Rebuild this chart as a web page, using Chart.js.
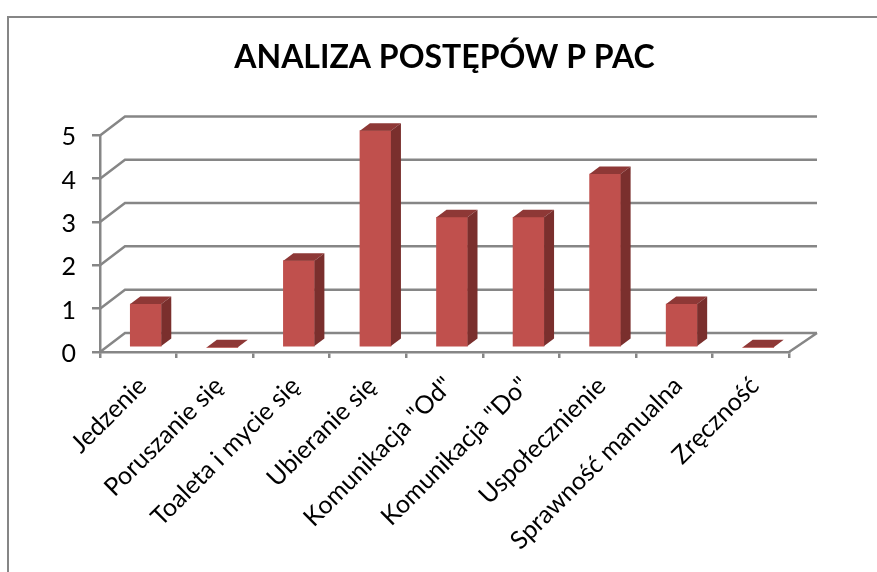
<!DOCTYPE html>
<html>
<head>
<meta charset="utf-8">
<title>Analiza postępów</title>
<script src="https://cdn.jsdelivr.net/npm/chart.js@4"></script>
<style>
    html, body { margin: 0; padding: 0; background: #fff; }
    #wrap { width: 877px; height: 572px; }
</style>
</head>
<body>
<div id="wrap"><canvas id="chart" width="877" height="572"></canvas></div>
<script>
const chartTitle = 'ANALIZA POSTĘPÓW P PAC';
const categories = ['Jedzenie', 'Poruszanie się', 'Toaleta i mycie się', 'Ubieranie się', 'Komunikacja "Od"', 'Komunikacja "Do"', 'Uspołecznienie', 'Sprawność manualna', 'Zręczność'];
const progressValues = [1, 0, 2, 5, 3, 3, 4, 1, 0];
const yTicks = [0, 1, 2, 3, 4, 5];

const FONT = 'Lato, "Open Sans", sans-serif';
const GREY = '#868686';

// fake 3D: back wall and floor behind the bars, depth faces on the bars
const fake3d = {
    id: 'fake3d',
    beforeDraw(chart) {
        const c = chart.ctx;
        // outer frame of the pasted chart, only top and left are visible
        c.save();
        c.strokeStyle = GREY;
        c.lineWidth = 2;
        c.beginPath();
        c.moveTo(8, chart.height);
        c.lineTo(8, 17);
        c.lineTo(chart.width, 17);
        c.stroke();
        c.restore();
    },
    beforeDatasetsDraw(chart) {
        const c = chart.ctx;
        const area = chart.chartArea;
        const y = chart.scales.y;
        c.save();
        c.strokeStyle = GREY;
        c.lineWidth = 2.5;
        c.beginPath();
        yTicks.forEach(v => {
            const py = y.getPixelForValue(v);
            c.moveTo(area.left, py);
            c.lineTo(area.left + 25, py - 19);
            c.lineTo(area.right + 28, py - 19);
        });
        c.moveTo(area.right, area.bottom);
        c.lineTo(area.right + 28, area.bottom - 19);
        c.stroke();
        c.restore();
        // bars sit a little inside the floor
        c.save();
        c.translate(7.5, -4.7);
    },
    afterDatasetsDraw(chart) {
        const c = chart.ctx;
        const dx = 10, dy = 7.5;
        chart.getDatasetMeta(0).data.forEach(bar => {
            const l = bar.x - bar.width / 2;
            const r = bar.x + bar.width / 2;
            // top
            c.fillStyle = '#8E3836';
            c.beginPath();
            c.moveTo(l, bar.y);
            c.lineTo(l + dx, bar.y - dy);
            c.lineTo(r + dx, bar.y - dy);
            c.lineTo(r, bar.y);
            c.closePath();
            c.fill();
            // side
            if (bar.base - bar.y > 0) {
                c.fillStyle = '#7A2F2D';
                c.beginPath();
                c.moveTo(r, bar.y);
                c.lineTo(r + dx, bar.y - dy);
                c.lineTo(r + dx, bar.base - dy);
                c.lineTo(r, bar.base);
                c.closePath();
                c.fill();
            }
        });
        c.restore();
    }
};

new Chart(document.getElementById('chart'), {
    type: 'bar',
    data: {
        labels: categories,
        datasets: [{
            label: 'Postępy',
            data: progressValues,
            backgroundColor: '#C0504D',
            barThickness: 31,
            clip: false
        }]
    },
    plugins: [fake3d],
    options: {
        responsive: false,
        animation: false,
        layout: { padding: { left: 0, right: 88, top: 0, bottom: 0 } },
        plugins: {
            legend: { display: false },
            tooltip: { enabled: false },
            title: {
                display: true,
                text: chartTitle,
                color: '#000',
                fullSize: false,
                font: { family: FONT, size: 32, weight: 'bold' },
                padding: { top: 38, bottom: 59 }
            }
        },
        scales: {
            x: {
                grid: { drawOnChartArea: false, drawTicks: true, tickLength: 6, color: GREY, lineWidth: 2.5 },
                border: { color: GREY, width: 2.5 },
                ticks: {
                    autoSkip: false,
                    minRotation: 45,
                    maxRotation: 45,
                    color: '#000',
                    padding: 13,
                    labelOffset: 4,
                    font: { family: FONT, size: 25 }
                },
                afterFit(scale) { scale.height = 220; }
            },
            y: {
                min: 0,
                max: 5,
                grid: { drawOnChartArea: false, drawTicks: true, tickLength: 8, color: GREY, lineWidth: 2.5 },
                border: { color: GREY, width: 2.5 },
                afterBuildTicks(scale) { scale.ticks = yTicks.map(v => ({ value: v })); },
                ticks: {
                    color: '#000',
                    padding: 16,
                    labelOffset: 2,
                    font: { family: FONT, size: 25 }
                },
                afterFit(scale) { scale.width = 100; }
            }
        }
    }
});
</script>
</body>
</html>
